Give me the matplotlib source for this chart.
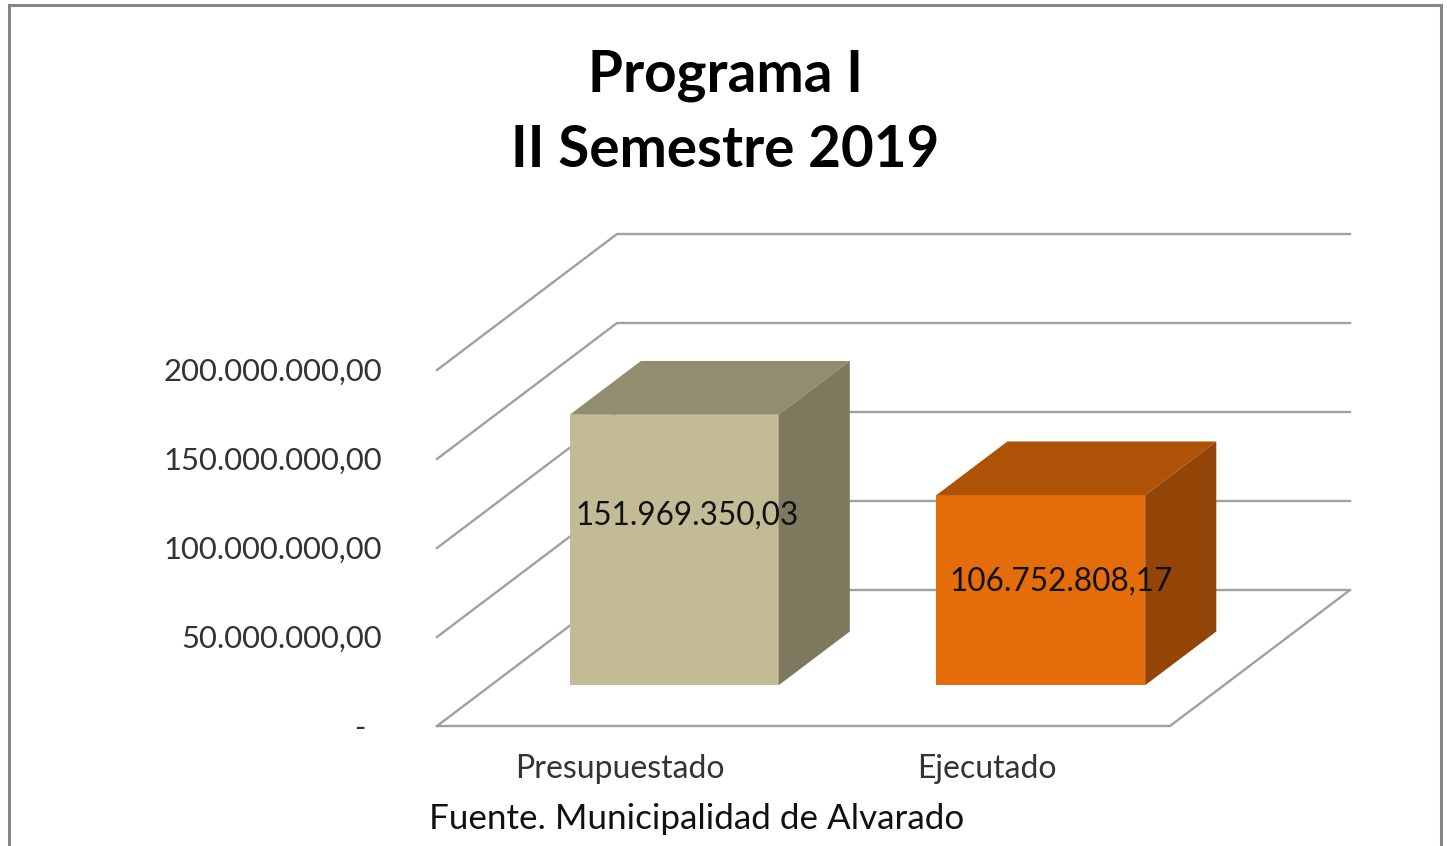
import matplotlib
matplotlib.use("Agg")
import matplotlib.pyplot as plt
from matplotlib.patches import Polygon, Rectangle

plt.rcParams['font.family'] = ['Lato', 'DejaVu Sans']

categories = ["Presupuestado", "Ejecutado"]
values = [151969350.03, 106752808.17]
value_labels = ["151.969.350,03", "106.752.808,17"]
ticks = [0, 50000000, 100000000, 150000000, 200000000]
tick_labels = ["-", "50.000.000,00", "100.000.000,00", "150.000.000,00", "200.000.000,00"]
title = "Programa I\nII Semestre 2019"
source = "Fuente. Municipalidad de Alvarado"

W, H = 1447, 846
front_colors = ["#C3BB96", "#E46C0A"]
top_colors = ["#938D6F", "#AE5208"]
side_colors = ["#7D785E", "#924506"]
GRID = "#A0A0A0"
label_shift = [(13, 34), (20, 9)]  # manual placement of the value labels, pixels

fig = plt.figure(figsize=(W / 100, H / 100), dpi=100, facecolor="white")
L, R, B, T = 437, 1170, 726, 370
ax = fig.add_axes([L / W, 1 - B / H, (R - L) / W, (B - T) / H])
ax.set_xlim(0, len(categories))
ax.set_ylim(0, ticks[-1])
ax.axis("off")

# depth of the floor, in axis units
DX = 180 / ((R - L) / len(categories))
DY = 136 / (B - T) * ticks[-1]


def proj(x, v, d):
    return (x + d * DX, v + d * DY)


# walls and floor lines
for t in ticks:
    ax.plot(*zip(proj(0, t, 0), proj(0, t, 1), proj(len(categories), t, 1)),
            color=GRID, lw=1.7, clip_on=False, zorder=1, solid_joinstyle="miter")
ax.plot(*zip(proj(0, 0, 0), proj(len(categories), 0, 0), proj(len(categories), 0, 1)),
        color=GRID, lw=1.7, clip_on=False, zorder=1, solid_joinstyle="miter")

# bars
bw = 0.285
d0, d1 = 0.30, 0.695
for i, v in enumerate(values):
    c = i + 0.5
    a, b = c - bw, c + bw
    ax.add_patch(Polygon([proj(a, 0, d0), proj(b, 0, d0), proj(b, v, d0), proj(a, v, d0)],
                         fc=front_colors[i], ec="none", clip_on=False, zorder=3))
    ax.add_patch(Polygon([proj(a, v, d0), proj(b, v, d0), proj(b, v, d1), proj(a, v, d1)],
                         fc=top_colors[i], ec="none", clip_on=False, zorder=3))
    ax.add_patch(Polygon([proj(b, 0, d0), proj(b, 0, d1), proj(b, v, d1), proj(b, v, d0)],
                         fc=side_colors[i], ec="none", clip_on=False, zorder=3))
    ax.annotate(value_labels[i], proj(c, v * 0.5, d0), xytext=label_shift[i],
                textcoords="offset pixels", ha="center", va="center",
                fontsize=22.7, color="#111111", zorder=5, annotation_clip=False)
    ax.annotate(categories[i], (c, 0), xytext=(0, -43), textcoords="offset pixels",
                ha="center", va="center", fontsize=23.0, color="#333333", annotation_clip=False)

for t, lab in zip(ticks, tick_labels):
    ax.annotate(lab, (0, t), xytext=(-71 if t == 0 else -55, -2), textcoords="offset pixels",
                ha="right", va="center", fontsize=22.3, color="#333333", annotation_clip=False)

fig.text(725 / W, 1 - 113 / H, title, ha="center", va="center", fontsize=40.8,
         fontweight="bold", color="black", linespacing=1.52)
fig.text(696.5 / W, 1 - 819 / H, source, ha="center", va="center", fontsize=25.2, color="#111111")

# chart frame, open at the bottom
fig.add_artist(Rectangle((8.5 / W, -0.02), (1440.5 - 8.5) / W, 1 - 5.5 / H + 0.02, transform=fig.transFigure,
                         fc="none", ec="#868686", lw=2.2))

fig.savefig("out.png", dpi=100)
